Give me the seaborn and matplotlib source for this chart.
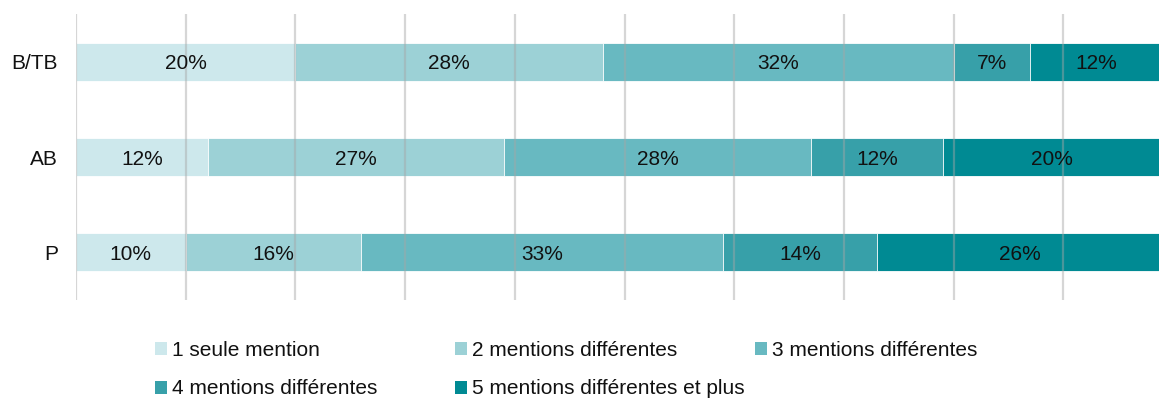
import matplotlib
matplotlib.use("Agg")
import matplotlib.pyplot as plt
from matplotlib.patches import Patch
import numpy as np
import pandas as pd
import seaborn as sns

sns.set_theme(style="white")
plt.rcParams["font.family"] = ["Liberation Sans", "DejaVu Sans"]

categories = ["B/TB", "AB", "P"]
series_names = [
    "1 seule mention",
    "2 mentions différentes",
    "3 mentions différentes",
    "4 mentions différentes",
    "5 mentions différentes et plus",
]
one_mention = [20, 12, 10]
two_mentions = [28, 27, 16]
three_mentions = [32, 28, 33]
four_mentions = [7, 12, 14]
five_plus = [12, 20, 26]
colors = ["#CDE8EC", "#9CD1D6", "#68B9C1", "#37A0A9", "#008A93"]

values = np.array([one_mention, two_mentions, three_mentions, four_mentions, five_plus])
cumulative = values.cumsum(axis=0)

W, H = 1159, 399
fig = plt.figure(figsize=(W / 100, H / 100), dpi=100)
ax = fig.add_axes([76 / W, 99 / H, 1097 / W, 286 / H])

# Stacked bars: draw cumulative totals from the widest down so each segment shows
for i in range(len(series_names) - 1, -1, -1):
    df = pd.DataFrame({"cat": categories, "val": cumulative[i]})
    sns.barplot(data=df, y="cat", x="val", orient="h", color=colors[i],
                width=0.4, ax=ax, saturation=1, edgecolor="white",
                linewidth=0.6, zorder=1)

# Segment labels
for i in range(len(series_names)):
    for j, cat in enumerate(categories):
        start = cumulative[i][j] - values[i][j]
        ax.text(start + values[i][j] / 2, j, f"{values[i][j]}%",
                ha="center", va="center_baseline", fontsize=15,
                color="#111111", zorder=4)

ax.set_xlim(0, 100)
ax.set_ylim(2.5, -0.5)
ax.set_xticks(np.arange(0, 101, 10))
ax.set_xticklabels([])
ax.set_axisbelow(False)
ax.xaxis.grid(True, color="#A6A6A6", alpha=0.45, linewidth=1.6, zorder=2.5)
ax.yaxis.grid(False)
for s in ax.spines.values():
    s.set_visible(False)
ax.tick_params(axis="y", length=0, pad=13, labelsize=15, labelcolor="#111111")
for lbl in ax.get_yticklabels():
    lbl.set_verticalalignment("center_baseline")
ax.tick_params(axis="x", length=0)
ax.set_xlabel("")
ax.set_ylabel("")

# Legend: three fixed-width slots per row
slot_x = [155, 455, 755]
row_y = [350, 389]
for k, (name, col) in enumerate(zip(series_names, colors)):
    r, c = divmod(k, 3)
    fig.legend([Patch(facecolor=col, edgecolor="none")], [name],
               loc="center left", bbox_to_anchor=(slot_x[c] / W, 1 - row_y[r] / H),
               frameon=False, fontsize=15, handlelength=0.58, handleheight=0.58,
               handletextpad=0.22, borderaxespad=0, borderpad=0,
               labelcolor="#111111")

fig.savefig("out.png", dpi=100)
